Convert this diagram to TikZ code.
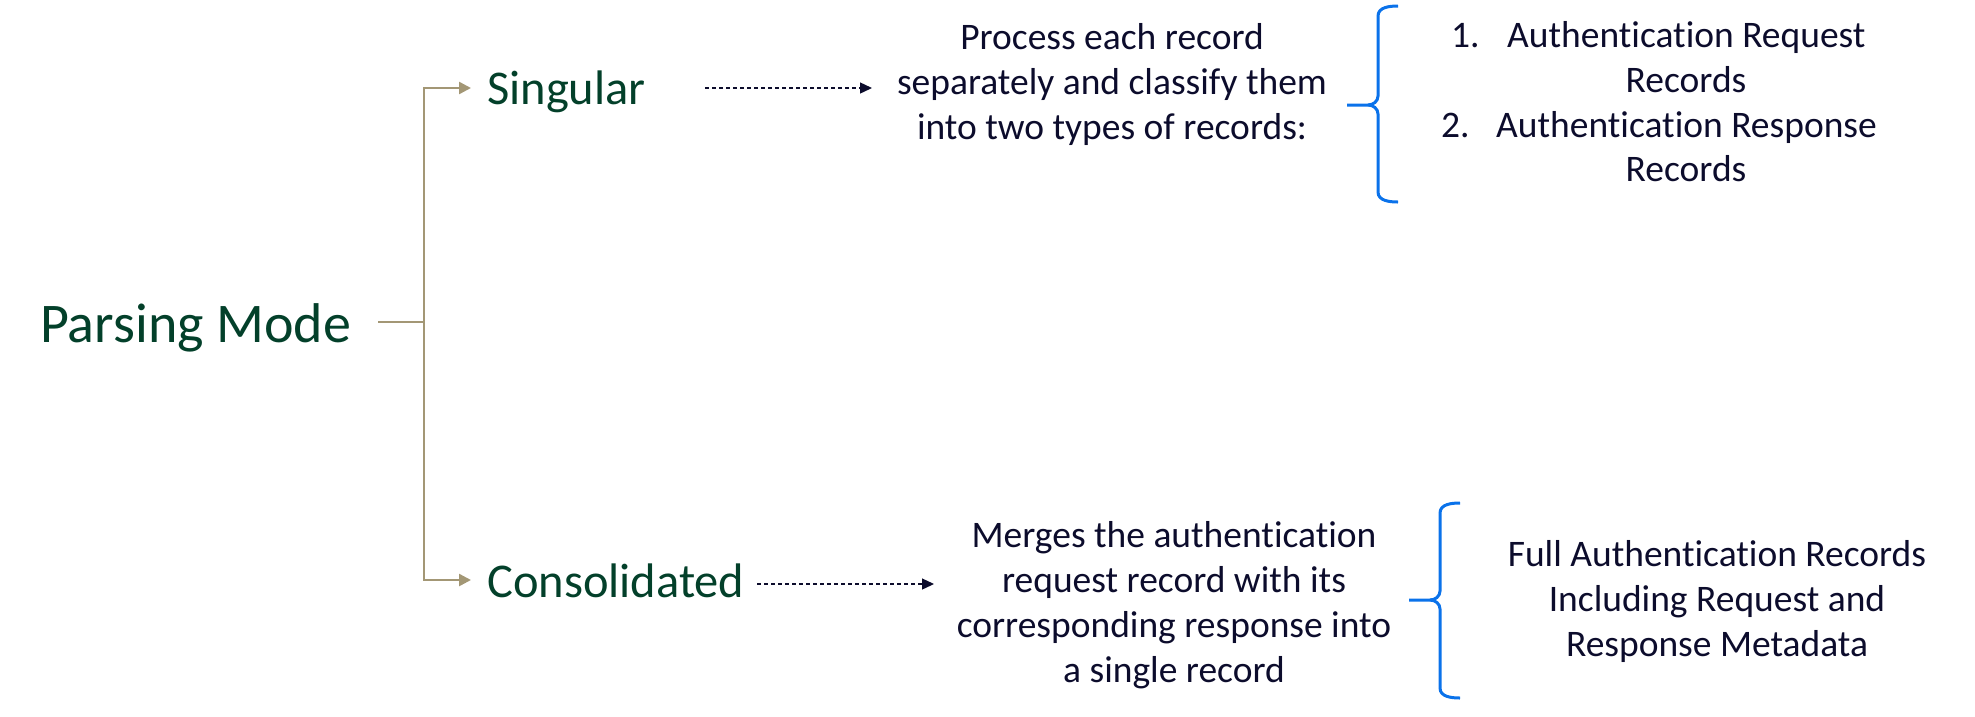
\documentclass[tikz,border=0pt]{standalone}
\usepackage{fontspec}
\setmainfont{Carlito}[Ligatures=NoCommon]
\usetikzlibrary{arrows.meta}
\definecolor{dkgreen}{HTML}{03402A}
\definecolor{lineTan}{HTML}{A39775}
\definecolor{ink}{HTML}{0C0C2C}
\definecolor{braceblue}{HTML}{0A72EA}
\tikzset{
  headtext/.style={font=\fontsize{56}{60}\selectfont, text=dkgreen, inner sep=0pt, anchor=base west},
  modetext/.style={font=\fontsize{48.5}{52}\selectfont, text=dkgreen, inner sep=0pt, anchor=base west},
  bodytext/.style={font=\fontsize{37.5}{44.8}\selectfont, text=ink, inner sep=0pt, align=center, anchor=base},
  listtext/.style={font=\fontsize{37.5}{44.8}\selectfont, text=ink, inner sep=0pt, anchor=base west},
  treeline/.style={draw=lineTan, line width=2.5pt},
  treearrow/.style={treeline, -{Triangle[length=12pt,width=12pt]}},
  dasharrow/.style={draw=ink, line width=1.3pt, dash pattern=on 4pt off 3pt, -{Triangle[length=12pt,width=11pt]}},
  bracepath/.style={draw=braceblue, line width=3pt},
}
\begin{document}
\begin{tikzpicture}[x=1pt,y=-1pt]
\useasboundingbox (0,0) rectangle (1975,716);
% left tree
\node[headtext] (pm) at (40,342) {Parsing Mode};
\node[modetext] (sg) at (487,104) {Singular};
\node[modetext] (cs) at (487,597) {Consolidated};
\coordinate (j) at (424,322);
\coordinate (pmOut) at (378,322);
\coordinate (sgIn) at (471,88);
\coordinate (csIn) at (471,580);
\draw[treeline] (pmOut) -- (j);
\draw[treearrow] (j) |- (sgIn);
\draw[treearrow] (j) |- (csIn);
% dashed arrows
\coordinate (sgD1) at (705,88);
\coordinate (sgD2) at (872,88);
\coordinate (csD1) at (757,584);
\coordinate (csD2) at (934,584);
\draw[dasharrow] (sgD1) -- (sgD2);
\draw[dasharrow] (csD1) -- (csD2);
% description texts (anchor = baseline of last line)
\node[bodytext] (proc) at (1112,139) {Process each record\\separately and classify them\\into two types of records:};
\node[bodytext] (merge) at (1174,682) {Merges the authentication\\request record with its\\corresponding response into\\a single record};
% brace 1
\coordinate (b1top) at (1398,6);
\coordinate (b1bot) at (1398,202);
\coordinate (b1tip) at (1347,105);
\draw[bracepath] (b1top) to[out=180,in=90] (1378,16) -- (1378,96)
  to[out=-90,in=0] (1368,105) -- (b1tip);
\draw[bracepath] (1368,105) to[out=0,in=90] (1378,114) -- (1378,192)
  to[out=-90,in=180] (b1bot);
% brace 2
\coordinate (b2top) at (1460,503);
\coordinate (b2bot) at (1460,698);
\coordinate (b2tip) at (1409,600);
\draw[bracepath] (b2top) to[out=180,in=90] (1440,513) -- (1440,591)
  to[out=-90,in=0] (1430,600) -- (b2tip);
\draw[bracepath] (1430,600) to[out=0,in=90] (1440,609) -- (1440,688)
  to[out=-90,in=180] (b2bot);
% list
\node[listtext] (n1) at (1451,47) {1.};
\node[listtext] (t1) at (1507,47) {Authentication Request};
\node[bodytext] (r1) at (1686,92) {Records};
\node[listtext] (n2) at (1441,137) {2.};
\node[listtext] (t2) at (1496,137) {Authentication Response};
\node[bodytext] (r2) at (1686,181) {Records};
% result
\node[bodytext] (full) at (1717,656) {Full Authentication Records\\Including Request and\\Response Metadata};
\end{tikzpicture}
\end{document}
